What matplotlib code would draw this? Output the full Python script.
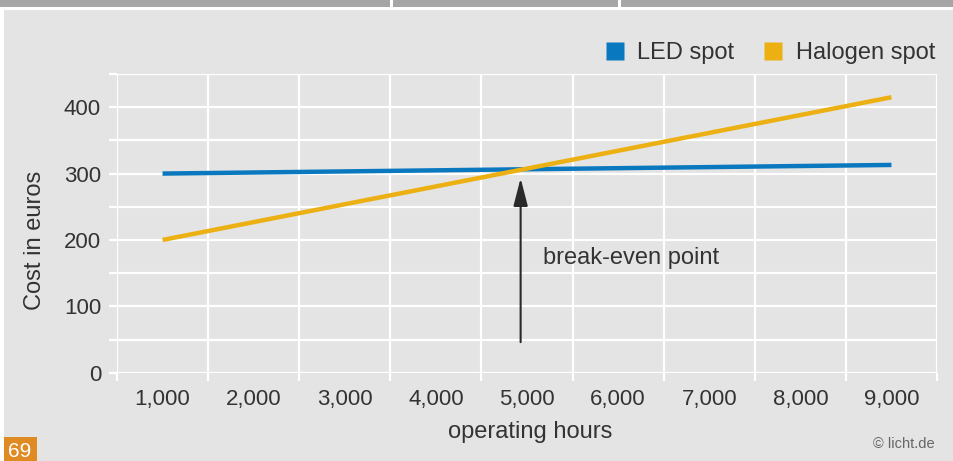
import matplotlib
matplotlib.use("Agg")
import matplotlib.pyplot as plt
from matplotlib.patches import Rectangle
from matplotlib.lines import Line2D
from matplotlib.ticker import FixedLocator, FuncFormatter

plt.rcParams['font.family'] = ['Liberation Sans', 'DejaVu Sans']

# Operating cost over lifetime
hours = [1000, 9000]
led_cost = [300, 313]
halogen_cost = [200, 415]
series_names = ["LED spot", "Halogen spot"]
x_ticks = [1000, 2000, 3000, 4000, 5000, 6000, 7000, 8000, 9000]
y_ticks = [0, 100, 200, 300, 400]
break_even_hours = 4930
arrow_from = 46
arrow_to = 293

BG = "#e4e4e4"
TXT = "#333333"
BLUE = "#0a78bf"
YELLOW = "#ecb012"

W, H = 954, 461
fig = plt.figure(figsize=(W / 100, H / 100), dpi=100, facecolor="white")

# page furniture: header bar and panel background
fig.patches.append(Rectangle((0, 1 - 7 / H), 1, 7 / H, transform=fig.transFigure,
                             facecolor="#a6a6a6", edgecolor="none", zorder=-10))
for sx in (390, 618):
    fig.patches.append(Rectangle((sx / W, 1 - 7 / H), 3 / W, 7 / H, transform=fig.transFigure,
                                 facecolor="white", edgecolor="none", zorder=-9))
fig.patches.append(Rectangle((4 / W, 0), 1 - 4 / W, 1 - 10 / H, transform=fig.transFigure,
                             facecolor=BG, edgecolor="none", zorder=-10))

left, right, top, bottom = 117, 937, 74, 372.7
ax = fig.add_axes([left / W, 1 - bottom / H, (right - left) / W, (bottom - top) / H])
ax.set_zorder(2)
ax.set_facecolor("none")
ax.set_xlim(500, 9500)
ax.set_ylim(0, 450)
for s in ax.spines.values():
    s.set_visible(False)

# y: grid and ticks every 50, labels every 100
ax.yaxis.set_major_locator(FixedLocator(range(0, 451, 50)))
ax.yaxis.set_major_formatter(FuncFormatter(lambda v, p: f"{int(v)}" if int(v) in y_ticks else ""))
ax.tick_params(axis="y", which="major", length=5.5, width=1.6, color="white",
               labelsize=16, labelcolor=TXT, pad=6)

# x: labels at category centres, grid and ticks at the cell borders
ax.xaxis.set_major_locator(FixedLocator(x_ticks))
ax.xaxis.set_major_formatter(FuncFormatter(lambda v, p: f"{int(v):,}"))
ax.xaxis.set_minor_locator(FixedLocator(range(500, 9501, 1000)))
ax.tick_params(axis="x", which="major", length=0, labelsize=16, labelcolor=TXT, pad=12)
ax.tick_params(axis="x", which="minor", length=5.5, width=1.6, color="white")

ax.grid(True, axis="y", which="major", color="white", lw=1.6, zorder=0)
ax.grid(True, axis="x", which="minor", color="white", lw=1.6, zorder=0)
ax.grid(False, axis="x", which="major")
ax.set_axisbelow(True)

ax.plot(hours, led_cost, color=BLUE, lw=3.2, solid_capstyle="butt", zorder=3)
ax.plot(hours, halogen_cost, color=YELLOW, lw=3.2, solid_capstyle="butt", zorder=4)

ax.annotate("", xy=(break_even_hours, arrow_to), xytext=(break_even_hours, arrow_from),
            arrowprops=dict(arrowstyle="-|>,head_length=0.85,head_width=0.22",
                            mutation_scale=20, color="#2a2a2a", lw=1.5, shrinkA=0, shrinkB=0),
            zorder=5)
ax.text(5176, 173, "break-even point", fontsize=17, color=TXT, ha="left", va="center")

fig.text(530 / W, 1 - 432 / H, "operating hours", fontsize=17, color=TXT,
         ha="center", va="center")
fig.text(35 / W, 1 - 240 / H, "Cost in euros", fontsize=17, color=TXT,
         ha="center", va="center", rotation=90)

handles = [Line2D([], [], ls="none", marker="s", ms=13, mec="none", mfc=c) for c in (BLUE, YELLOW)]
fig.legend(handles, series_names, loc="center right", bbox_to_anchor=(935 / W, 1 - 53 / H),
           bbox_transform=fig.transFigure, ncol=2, frameon=False, fontsize=17,
           handlelength=0.8, handletextpad=0.55, columnspacing=1.25, borderpad=0,
           borderaxespad=0, labelcolor=TXT)

# page number badge and credit
fig.patches.append(Rectangle((4 / W, 0), 33 / W, 24 / H, transform=fig.transFigure,
                             facecolor="#e08a24", edgecolor="none", zorder=2))
fig.text(20 / W, 1 - 451 / H, "69", fontsize=15, color="white", ha="center", va="center")
fig.text(935 / W, 1 - 444 / H, "© licht.de", fontsize=10.5, color="#666666",
         ha="right", va="center")

fig.savefig("out.png", dpi=100, facecolor="white")
